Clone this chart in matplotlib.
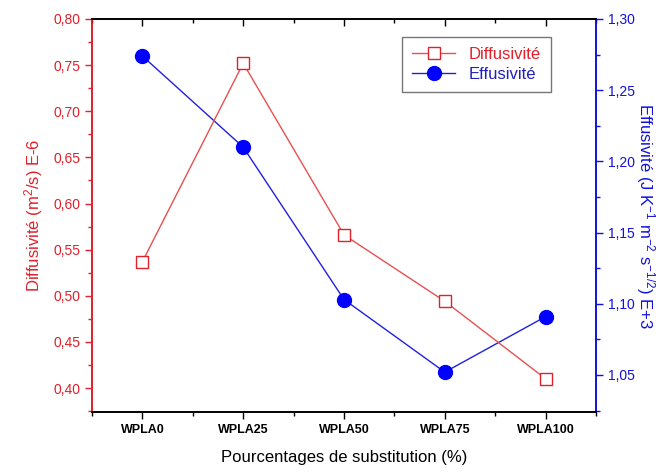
import matplotlib
matplotlib.use("Agg")
import matplotlib.pyplot as plt
from matplotlib.ticker import FuncFormatter, MultipleLocator, AutoMinorLocator

plt.rcParams['font.family'] = ['Liberation Sans', 'DejaVu Sans']
plt.rcParams['mathtext.fontset'] = 'custom'
plt.rcParams['mathtext.rm'] = 'Liberation Sans'
plt.rcParams['mathtext.it'] = 'Liberation Sans:italic'

categories = ['WPLA0', 'WPLA25', 'WPLA50', 'WPLA75', 'WPLA100']
diffusivite = [0.537, 0.752, 0.566, 0.494, 0.410]
effusivite = [1.274, 1.210, 1.103, 1.052, 1.091]

RED = '#E0202A'
BLUE = '#1010E0'

fig = plt.figure(figsize=(6.71, 4.72), dpi=100)
ax1 = fig.add_axes([92/671, 1-412/472, (596-92)/671, (412-19)/472])
ax2 = ax1.twinx()

x = list(range(len(categories)))
l1, = ax1.plot(x, diffusivite, color='#E85050', lw=1.0, marker='s', ms=8,
               mfc='white', mec=RED, mew=1.0, label='Diffusivité', zorder=3)
l2, = ax2.plot(x, effusivite, color='#2020E0', lw=1.0, marker='o', ms=10,
               mfc='#0000FF', mec='#0000FF', label='Effusivité', zorder=3)

ax1.set_xlim(-0.5, 4.5)
ax1.set_ylim(0.374, 0.80)
ax2.set_ylim(1.024, 1.30)

comma = FuncFormatter(lambda v, p: f"{v:.2f}".replace('.', ','))
ax1.yaxis.set_major_locator(MultipleLocator(0.05))
ax1.yaxis.set_minor_locator(MultipleLocator(0.025))
ax1.yaxis.set_major_formatter(comma)
ax2.yaxis.set_major_locator(MultipleLocator(0.05))
ax2.yaxis.set_minor_locator(MultipleLocator(0.025))
ax2.yaxis.set_major_formatter(comma)

ax1.set_xticks(x)
ax1.set_xticklabels(categories, fontweight='bold', fontsize=9)
ax1.xaxis.set_minor_locator(AutoMinorLocator(2))

ax1.tick_params(axis='x', which='both', direction='out', top=True, labeltop=False)
ax1.tick_params(axis='x', which='major', length=5, width=1)
ax1.tick_params(axis='x', which='minor', length=3, width=1)
ax1.tick_params(axis='y', which='major', length=5, width=1, colors=RED, labelsize=10)
ax1.tick_params(axis='y', which='minor', length=3, width=1, colors=RED)
ax2.tick_params(axis='y', which='major', length=5, width=1, colors=BLUE, labelsize=10)
ax2.tick_params(axis='y', which='minor', length=3, width=1, colors=BLUE)
# top ticks inward
ax1.xaxis.set_tick_params(which='both', top=True)
for t in ax1.xaxis.get_major_ticks() + ax1.xaxis.get_minor_ticks():
    t.tick2line.set_marker(3)  # TICKDOWN

for a in (ax1, ax2):
    a.spines['top'].set_color('black')
    a.spines['bottom'].set_color('black')
    a.spines['left'].set_color(RED)
    a.spines['right'].set_color(BLUE)
    for s in a.spines.values():
        s.set_linewidth(1.2)

ax1.set_ylabel('Diffusivité (m$^2$/s) E-6', color=RED, fontsize=12, labelpad=6)
ax2.set_ylabel('Effusivité (J K$^{-1}$ m$^{-2}$ s$^{-1/2}$) E+3', color=BLUE,
               fontsize=12, rotation=-90, labelpad=16)
ax1.set_xlabel('Pourcentages de substitution (%)', fontsize=12, labelpad=10)

leg = ax1.legend(handles=[l1, l2], loc='upper right', bbox_to_anchor=(0.927, 0.975),
                 fontsize=12, frameon=True, fancybox=False, edgecolor='#555555',
                 handlelength=2.6, borderpad=0.6, labelspacing=0.3)
leg.get_frame().set_linewidth(1.0)
leg.texts[0].set_color(RED)
leg.texts[1].set_color('#2020C0')
leg.set_zorder(10)
ax2.add_artist(leg) if False else None
ax1.set_zorder(ax2.get_zorder() + 1)
ax1.patch.set_visible(False)

fig.savefig('out.png', dpi=100)
